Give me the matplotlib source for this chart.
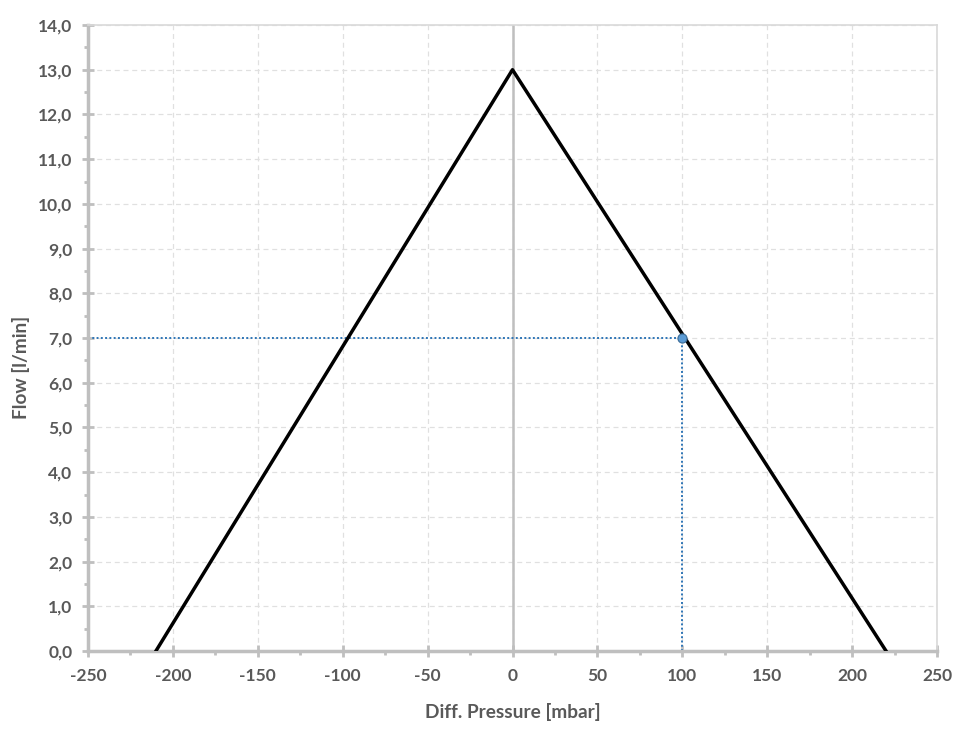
import matplotlib
matplotlib.use("Agg")
import matplotlib.pyplot as plt
from matplotlib.ticker import MultipleLocator, FuncFormatter

# Data
pressure = [-210, 0, 220]
flow = [0.0, 13.0, 0.0]
op_pressure = 100
op_flow = 7.0
x_label = "Diff. Pressure [mbar]"
y_label = "Flow [l/min]"

plt.rcParams['font.family'] = ['Lato', 'DejaVu Sans']

fig = plt.figure(figsize=(9.6, 7.32), dpi=100)
ax = fig.add_axes([88/960, 1-651/732, (937-88)/960, (651-25)/732])

ax.set_xlim(-250, 250)
ax.set_ylim(0, 14)

ax.grid(True, which='major', color='#e0e0e0', linestyle=(0, (4, 3)), linewidth=0.9)
ax.set_axisbelow(True)

ax.axvline(0, color='#bfbfbf', linewidth=1.8, zorder=1.5)

ax.plot(pressure, flow, color='black', linewidth=2.5, zorder=3)
ax.plot([-250, op_pressure], [op_flow, op_flow], color='#2e75b6', linestyle=(0, (1, 1.2)), linewidth=1.4, zorder=2.5)
ax.plot([op_pressure, op_pressure], [0, op_flow], color='#2e75b6', linestyle=(0, (1, 1.2)), linewidth=1.4, zorder=2.5)
ax.plot([op_pressure], [op_flow], marker='o', markersize=6.5, markerfacecolor='#5b9bd5', markeredgecolor='#41719c', markeredgewidth=0.9, zorder=4)

for s in ['left', 'bottom']:
    ax.spines[s].set_color('#bfbfbf')
    ax.spines[s].set_linewidth(2.5)
for s in ['top', 'right']:
    ax.spines[s].set_color('#d9d9d9')
    ax.spines[s].set_linewidth(1.2)

ax.xaxis.set_major_locator(MultipleLocator(50))
ax.xaxis.set_minor_locator(MultipleLocator(25))
ax.yaxis.set_major_locator(MultipleLocator(1))
ax.yaxis.set_minor_locator(MultipleLocator(0.5))
ax.yaxis.set_major_formatter(FuncFormatter(lambda v, p: f"{v:.1f}".replace('.', ',')))
ax.xaxis.set_major_formatter(FuncFormatter(lambda v, p: f"{int(round(v))}"))

ax.tick_params(axis='both', which='major', direction='inout', length=8.6, width=2, color='#bfbfbf',
               labelsize=12.5, labelcolor='#595959')
ax.tick_params(axis='both', which='minor', direction='out', length=3, width=2, color='#bfbfbf')
ax.tick_params(axis='x', which='major', pad=8)
ax.tick_params(axis='y', which='major', pad=7)
for lab in ax.get_xticklabels() + ax.get_yticklabels():
    lab.set_fontweight('bold')

ax.set_xlabel(x_label, fontsize=13.7, fontweight='bold', color='#595959')
ax.set_ylabel(y_label, fontsize=13.7, fontweight='bold', color='#595959', va='center')
ax.xaxis.set_label_coords(0.5, (651-703)/626)
ax.yaxis.set_label_coords((21-88)/849, (651-367)/626)

fig.savefig("out.png", dpi=100, facecolor='white')
